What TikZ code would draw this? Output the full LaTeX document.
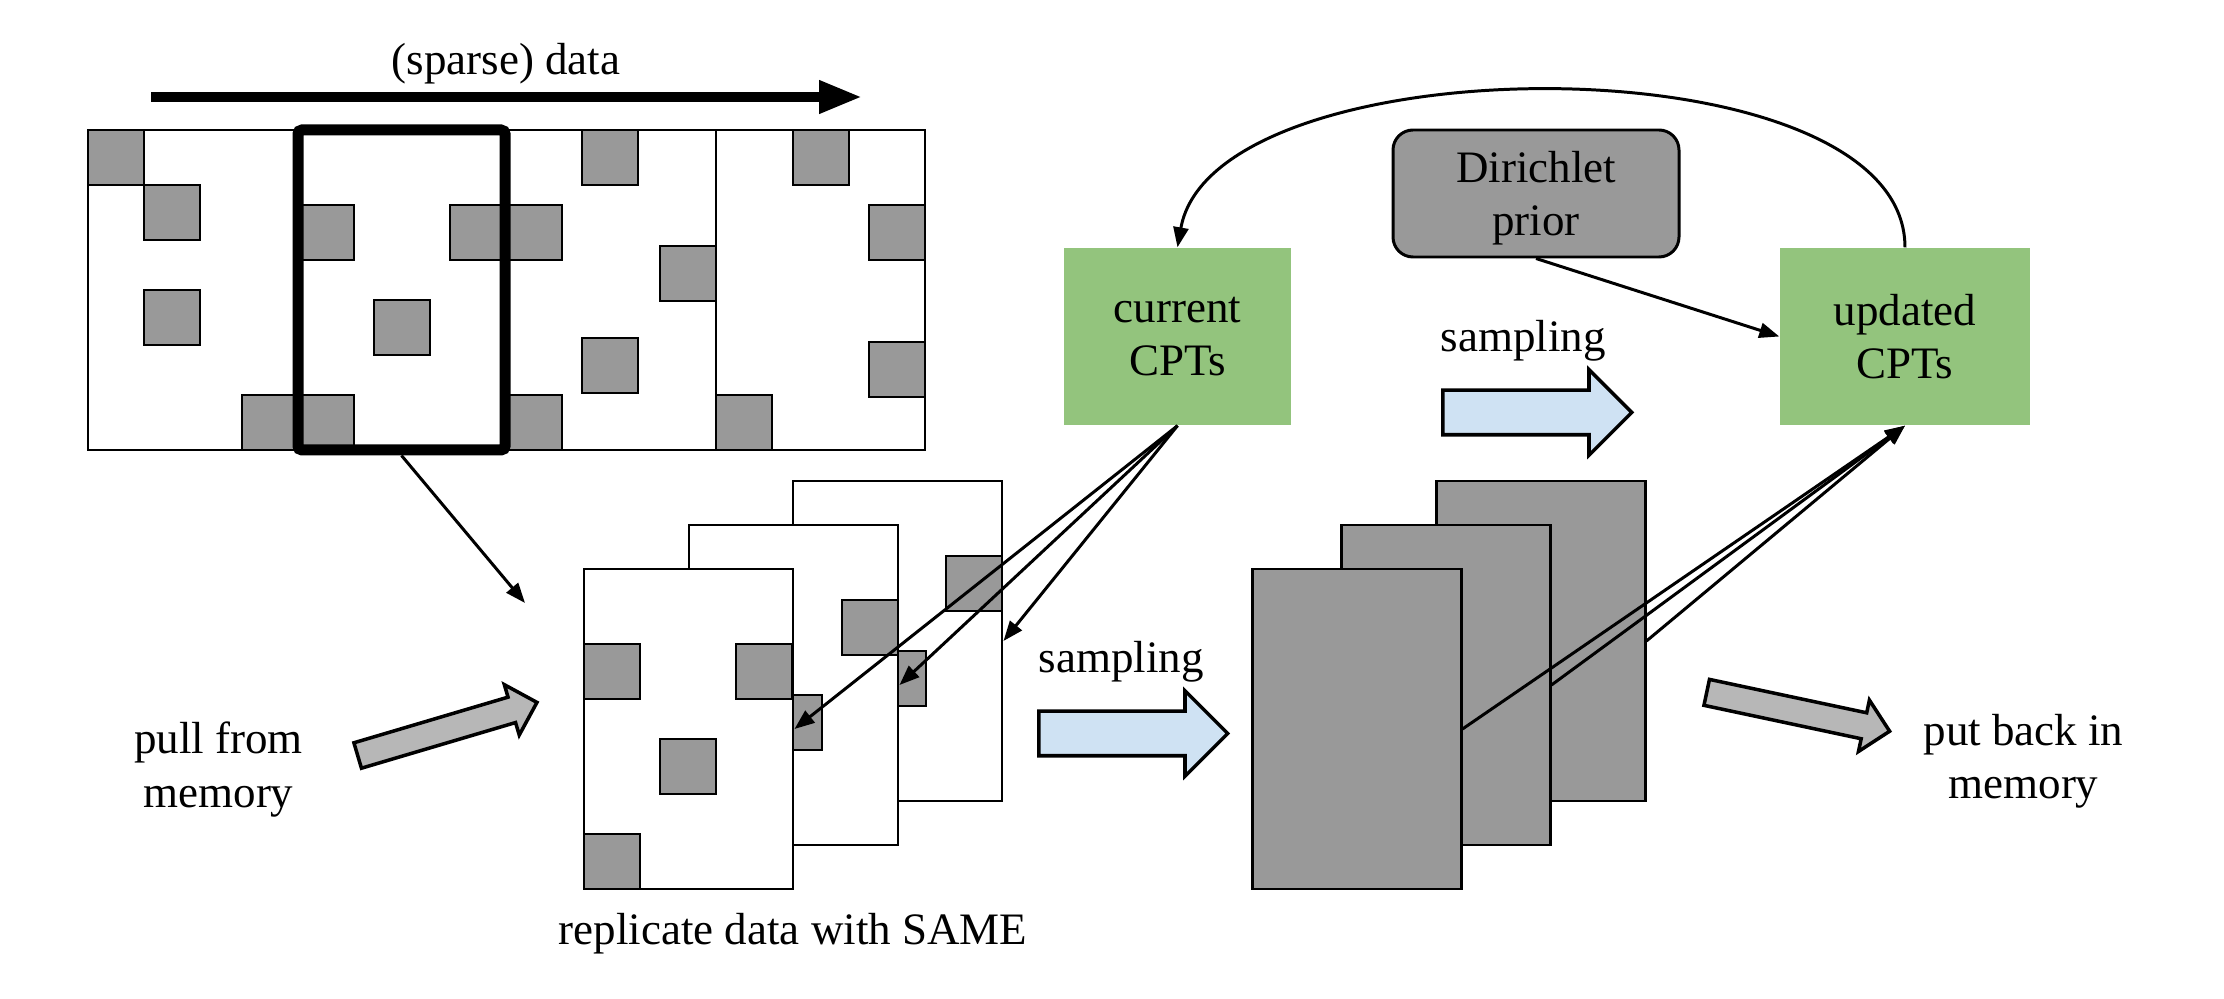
\documentclass[tikz,border=0pt]{standalone}
\usepackage{fontspec}
\setmainfont{Liberation Serif}
\usetikzlibrary{arrows.meta,shapes.arrows}

\definecolor{cptgreen}{HTML}{93C47D}
\definecolor{sampblue}{HTML}{CFE2F3}
\definecolor{cellgray}{HTML}{999999}
\definecolor{movegray}{HTML}{B7B7B7}

\tikzset{
    sqcell/.style={draw=black,fill=cellgray,line width=0.85pt},
    datapage/.style={draw=black,fill=white,line width=0.85pt,minimum width=2.09cm,minimum height=3.2cm,inner sep=0pt},
    darkpage/.style={datapage,fill=cellgray},
    cpt/.style={fill=cptgreen,minimum height=1.77cm,inner sep=0pt,align=center},
    link/.style={line width=0.85pt,-{Triangle[length=0.2cm,width=0.15cm]}},
    blockarrow/.style={single arrow,draw=black,line width=1pt,anchor=tail,inner xsep=0pt,inner ysep=0.205cm,
        single arrow head extend=0.205cm,minimum height=1.89cm},
    movearrow/.style={blockarrow,fill=movegray,inner ysep=0.115cm,single arrow head extend=0.13cm,minimum height=1.87cm}
}

\begin{document}
\begin{tikzpicture}[scale=1,font=\fontsize{12.8}{15.1}\selectfont]
        \useasboundingbox (0,0) rectangle (22.24,9.98);

        % data stream on top
        \coordinate (dstart) at (1.51,9.01);
        \coordinate (dend) at (8.62,9.01);
        \draw[line width=0.1cm,-{Triangle[length=0.43cm,width=0.31cm]}] (dstart) -- (dend);
        \node[anchor=base] (datalbl) at (5.06,9.23) {(sparse) data};

        \draw[line width=0.85pt,fill=white] (0.88,5.48) rectangle (9.25,8.68);
        \foreach \x in {2.97,5.06,7.16}
            \draw[line width=0.85pt] (\x,5.48) -- (\x,8.68);
        \foreach \x/\y in {0.88/8.13,1.44/7.58,1.44/6.53,2.42/5.48,2.98/7.38,2.98/5.48,
                           3.74/6.43,4.50/7.38,5.06/7.38,5.06/5.48,5.82/8.13,6.60/6.97,
                           5.82/6.05,7.16/5.48,7.93/8.13,8.69/7.38,8.69/6.01} {
            \draw[sqcell] (\x,\y) rectangle ++(0.56,0.55);
        }
        \node[draw,line width=0.11cm,rounded corners=0.04cm,minimum width=2.07cm,minimum height=3.2cm,inner sep=0pt] (win) at (4.015,7.08) {};

        % replicated pages
        \node[datapage] (rep3) at (8.975,3.57) {};
        \foreach \x/\y in {9.46/3.87,8.70/2.92}
            \draw[sqcell] (\x,\y) rectangle ++(0.56,0.55);
        \node[datapage] (rep2) at (7.935,3.13) {};
        \foreach \x/\y in {8.42/3.43,7.66/2.48}
            \draw[sqcell] (\x,\y) rectangle ++(0.56,0.55);
        \node[datapage] (rep1) at (6.885,2.69) {};
        \foreach \x/\y in {5.84/2.99,7.36/2.99,6.60/2.04,5.84/1.09}
            \draw[sqcell] (\x,\y) rectangle ++(0.56,0.55);
        \node[anchor=base] (replbl) at (7.93,0.53) {replicate data with SAME};

        % sampled pages
        \node[darkpage] (smp3) at (15.405,3.57) {};
        \node[darkpage] (smp2) at (14.455,3.13) {};
        \node[darkpage] (smp1) at (13.565,2.69) {};

        \node[cpt,minimum width=2.27cm] (cur) at (11.775,6.615) {current\\CPTs};
        \node[cpt,minimum width=2.50cm] (upd) at (19.05,6.615) {updated\\CPTs};
        \node[draw,fill=cellgray,line width=0.85pt,rounded corners=0.2cm,minimum width=2.86cm,minimum height=1.27cm,
              inner sep=0pt,text depth=0pt,align=center] (prior) at (15.36,8.045) {Dirichlet\\prior};

        \node[blockarrow,fill=sampblue] (samp1) at (10.37,2.645) {};
        \node[anchor=base] (samp1lbl) at (11.21,3.26) {sampling};
        \node[blockarrow,fill=sampblue] (samp2) at (14.41,5.855) {};
        \node[anchor=base] (samp2lbl) at (15.23,6.46) {sampling};

        \node[movearrow,rotate=16.5] (pull) at (3.56,2.42) {};
        \node[align=center] (pulllbl) at (2.185,2.285) {pull from\\memory};
        \node[movearrow,rotate=-12] (putback) at (17.05,3.06) {};
        \node[align=center] (putlbl) at (20.235,2.37) {put back in\\memory};

        % connectors
        \coordinate (repin) at (5.25,3.95);
        \draw[link] (win.south) -- (repin);
        \foreach \p in {rep1,rep2,rep3} {
            \draw[link] (cur.south) -- (\p.east);
        }
        \foreach \p in {smp1,smp2,smp3} {
            \draw[link] (\p.east) -- (upd.south);
        }
        \draw[link] (prior.south) -- (upd.west);
        \draw[link] (upd.north) to[out=90,in=80,looseness=0.74] (cur.north);
    \end{tikzpicture}
\end{document}
